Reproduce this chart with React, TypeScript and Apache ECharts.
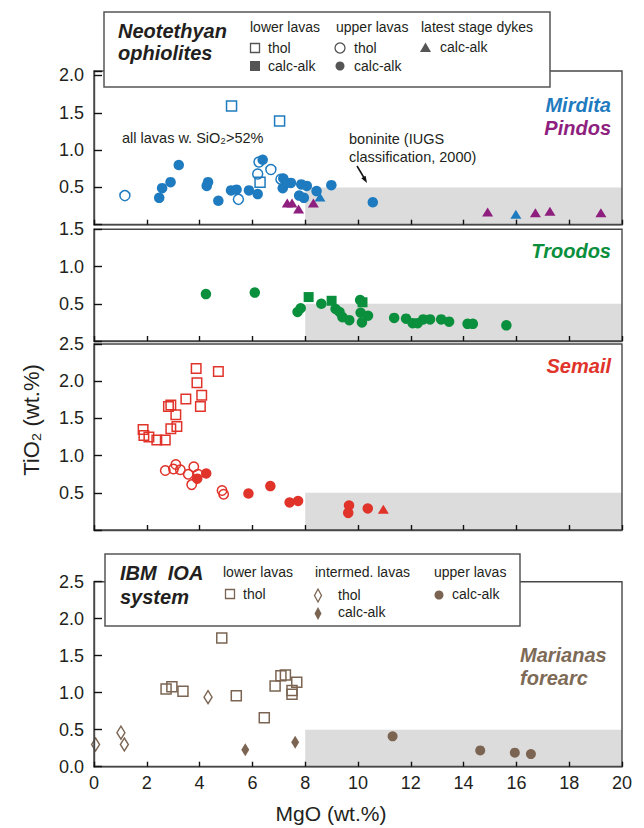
import React, { useEffect, useRef } from "react";
import * as echarts from "echarts";

// ---------- data (MgO wt.%, TiO2 wt.%) ----------
// Panel 1: Neotethyan ophiolites (Mirdita, Pindos)
const mirditaLowerThol = [[5.21, 1.59], [7.03, 1.39], [6.29, 0.57]];
const mirditaUpperThol = [[1.17, 0.39], [5.47, 0.34], [6.25, 0.84], [6.2, 0.68], [6.7, 0.74], [7.08, 0.61]];
const mirditaUpperCalc = [
  [2.47, 0.36], [2.58, 0.49], [2.9, 0.57], [3.21, 0.8], [4.27, 0.52], [4.32, 0.57], [4.71, 0.32],
  [5.19, 0.46], [5.4, 0.47], [5.87, 0.46], [6.2, 0.41], [6.39, 0.87], [7.17, 0.62], [7.15, 0.49],
  [7.3, 0.56], [7.46, 0.56], [7.85, 0.54], [8.06, 0.52], [7.77, 0.39], [7.95, 0.36], [8.43, 0.45],
  [8.99, 0.53], [10.56, 0.3],
];
const mirditaDykes = [[8.56, 0.37], [15.98, 0.14]];
const pindosDykes = [[7.32, 0.29], [7.5, 0.29], [7.75, 0.21], [8.31, 0.29], [14.91, 0.17], [16.72, 0.16], [17.27, 0.18], [19.2, 0.16]];

// Panel 2: Troodos
const troodosLowerCalc = [[8.13, 0.59], [9.0, 0.54], [10.17, 0.52]];
const troodosUpperCalc = [
  [4.24, 0.63], [6.09, 0.65], [7.71, 0.39], [7.83, 0.44], [8.61, 0.5], [9.15, 0.43], [9.3, 0.39],
  [9.41, 0.32], [9.67, 0.28], [10.08, 0.55], [10.1, 0.38], [10.15, 0.25], [10.38, 0.34], [11.37, 0.31],
  [11.82, 0.3], [12.07, 0.24], [12.26, 0.24], [12.47, 0.29], [12.73, 0.29], [13.15, 0.29], [13.45, 0.26],
  [14.15, 0.23], [14.35, 0.23], [15.62, 0.21],
];

// Panel 3: Semail
const semailLowerThol = [
  [3.87, 2.17], [4.71, 2.13], [3.9, 1.98], [4.08, 1.81], [4.03, 1.66], [3.48, 1.76], [2.91, 1.68],
  [2.82, 1.66], [3.1, 1.55], [3.14, 1.39], [2.91, 1.36], [1.86, 1.35], [1.89, 1.27], [2.08, 1.25],
  [2.38, 1.21], [2.7, 1.21],
];
const semailUpperThol = [
  [2.7, 0.8], [3.01, 0.82], [3.1, 0.88], [3.27, 0.81], [3.57, 0.75], [3.78, 0.85], [3.7, 0.61],
  [3.94, 0.75], [4.85, 0.53], [4.91, 0.48],
];
const semailUpperCalc = [[3.91, 0.69], [4.25, 0.76], [5.85, 0.49], [6.68, 0.59], [7.41, 0.37], [7.73, 0.39], [9.66, 0.33], [9.63, 0.23], [10.37, 0.29]];
const semailDykes = [[10.96, 0.28]];

// Panel 4: IBM IOA system (Marianas forearc)
const ibmLowerThol = [
  [4.84, 1.74], [2.73, 1.05], [2.95, 1.08], [3.37, 1.02], [5.39, 0.96], [6.45, 0.66], [6.86, 1.09],
  [7.08, 1.23], [7.25, 1.24], [7.5, 1.03], [7.5, 0.98], [7.68, 1.14],
];
const ibmInterThol = [[0.06, 0.3], [1.02, 0.46], [1.15, 0.3], [4.32, 0.94]];
const ibmInterCalc = [[5.73, 0.23], [7.62, 0.33]];
const ibmUpperCalc = [[11.31, 0.41], [14.63, 0.22], [15.94, 0.19], [16.55, 0.17]];

// boninite field: MgO from 8 to 20, TiO2 below 0.5
const boniniteField = [[8, 20, 0.5]];

// axis settings
const xTicks = { min: 0, max: 20, interval: 2 };
const yMaxes = [2.06, 1.5, 2.5, 2.5];

// ---------- styling ----------
const FONT = '"Liberation Sans", Arial, Helvetica, sans-serif';
const BLUE = "#1f7bbf";
const PURPLE = "#8e1f7e";
const GREEN = "#0a8f3c";
const RED = "#e0332a";
const BROWN = "#7b6552";
const AXIS = "#474747";
const SHADE = "#dcdcdc";

const grids = [
  { left: 94, top: 71, width: 528, height: 153.7 },
  { left: 94, top: 229.3, width: 528, height: 111.7 },
  { left: 94, top: 344, width: 528, height: 186 },
  { left: 94, top: 581.7, width: 528, height: 185 },
];

function scatter(data: number[][], gi: number, symbol: string, color: string, filled: boolean, size: any, z = 3) {
  return {
    type: "scatter",
    xAxisIndex: gi,
    yAxisIndex: gi,
    data,
    symbol,
    symbolSize: size,
    z,
    silent: true,
    itemStyle: filled
      ? { color, borderWidth: 0, opacity: 1 }
      : { color: "rgba(255,255,255,0)", borderColor: color, borderWidth: 1.5, opacity: 1 },
  };
}

function shadeSeries(gi: number) {
  return {
    type: "custom",
    xAxisIndex: gi,
    yAxisIndex: gi,
    z: 1,
    silent: true,
    encode: { x: [0, 1], y: 2 },
    data: boniniteField,
    renderItem: (_p: any, api: any) => {
      const p0 = api.coord([api.value(0), api.value(2)]);
      const p1 = api.coord([api.value(1), 0]);
      return {
        type: "rect",
        shape: { x: p0[0], y: p0[1], width: p1[0] - p0[0], height: p1[1] - p0[1] },
        style: { fill: SHADE },
      };
    },
  };
}

function txt(x: number, y: number, text: string, opts: any = {}) {
  return {
    type: "text",
    x,
    y,
    z: 120,
    rotation: opts.rotation || 0,
    style: {
      text,
      fill: opts.color || "#231f20",
      fontFamily: FONT,
      fontSize: opts.size || 14,
      fontWeight: opts.bold ? "bold" : "normal",
      fontStyle: opts.italic ? "italic" : "normal",
      align: opts.align || "left",
      verticalAlign: opts.va || "middle",
    },
  };
}

function rectMark(cx: number, cy: number, s: number, color: string, filled: boolean) {
  return {
    type: "rect",
    z: 120,
    shape: { x: cx - s / 2, y: cy - s / 2, width: s, height: s },
    style: filled ? { fill: color } : { fill: "#fff", stroke: color, lineWidth: 1.3 },
  };
}
function circMark(cx: number, cy: number, r: number, color: string, filled: boolean) {
  return {
    type: "circle",
    z: 120,
    shape: { cx, cy, r },
    style: filled ? { fill: color } : { fill: "#fff", stroke: color, lineWidth: 1.3 },
  };
}
function polyMark(points: number[][], color: string, filled: boolean) {
  return {
    type: "polygon",
    z: 120,
    shape: { points },
    style: filled ? { fill: color } : { fill: "#fff", stroke: color, lineWidth: 1.3 },
  };
}

export default function App() {
  const ref = useRef<HTMLDivElement>(null);

  useEffect(() => {
    document.body.style.margin = "0";
    if (!ref.current) return;
    const chart = echarts.init(ref.current, null, { renderer: "svg" });

    const xAxes = grids.map((_, i) => ({
      type: "value",
      gridIndex: i,
      ...xTicks,
      z: 10,
      axisLine: { show: true, onZero: false, lineStyle: { color: AXIS, width: 1.4 } },
      axisTick: { show: true, inside: true, length: 5, lineStyle: { color: "#111", width: 1.4 } },
      axisLabel: {
        show: i === 3,
        color: "#231f20",
        fontFamily: FONT,
        fontSize: 18,
        margin: 7,
        showMaxLabel: true,
        showMinLabel: true,
      },
      splitLine: { show: false },
    }));

    const yAxes = grids.map((_, i) => ({
      type: "value",
      gridIndex: i,
      min: 0,
      max: yMaxes[i],
      interval: 0.5,
      z: 10,
      axisLine: { show: true, onZero: false, lineStyle: { color: AXIS, width: 1.4 } },
      axisTick: { show: true, inside: true, length: 8, lineStyle: { color: "#111", width: 1.4 } },
      axisLabel: {
        color: "#231f20",
        fontFamily: FONT,
        fontSize: 18,
        margin: 10,
        showMaxLabel: true,
        showMinLabel: true,
        formatter: (v: number) => {
          const k = v / 0.5;
          if (Math.abs(k - Math.round(k)) > 1e-6) return "";
          if (v === 0 && i !== 3) return "";
          return v.toFixed(1);
        },
      },
      splitLine: { show: false },
    }));

    const series: any[] = [
      shadeSeries(0), shadeSeries(1), shadeSeries(2), shadeSeries(3),
      // panel 1
      scatter(mirditaUpperCalc, 0, "circle", BLUE, true, 10.5),
      scatter(mirditaUpperThol, 0, "circle", BLUE, false, 10, 4),
      scatter(mirditaLowerThol, 0, "rect", BLUE, false, 10, 4),
      scatter(mirditaDykes, 0, "triangle", BLUE, true, [11, 9], 5),
      scatter(pindosDykes, 0, "triangle", PURPLE, true, [11, 9], 5),
      // panel 2
      scatter(troodosUpperCalc, 1, "circle", GREEN, true, 10.5),
      scatter(troodosLowerCalc, 1, "rect", GREEN, true, 10, 4),
      // panel 3
      scatter(semailLowerThol, 2, "rect", RED, false, 9.5),
      scatter(semailUpperThol, 2, "circle", RED, false, 9.5),
      scatter(semailUpperCalc, 2, "circle", RED, true, 10.5, 4),
      scatter(semailDykes, 2, "triangle", RED, true, [11, 9], 5),
      // panel 4
      scatter(ibmLowerThol, 3, "rect", BROWN, false, 10),
      scatter(ibmInterThol, 3, "diamond", BROWN, false, [8, 13]),
      scatter(ibmInterCalc, 3, "diamond", BROWN, true, [8, 13]),
      scatter(ibmUpperCalc, 3, "circle", BROWN, true, 10),
    ];

    const L1 = "#555";
    const graphic: any[] = [
      // axis titles
      txt(331, 813, "MgO (wt.%)", { size: 21, align: "center" }),
      txt(31, 420, "TiO\u2082 (wt.%)", { size: 22, align: "center", rotation: Math.PI / 2 }),
      // panel labels
      txt(611, 105, "Mirdita", { size: 20, bold: true, italic: true, color: BLUE, align: "right" }),
      txt(611, 128, "Pindos", { size: 20, bold: true, italic: true, color: PURPLE, align: "right" }),
      txt(611, 251, "Troodos", { size: 20, bold: true, italic: true, color: GREEN, align: "right" }),
      txt(611, 366, "Semail", { size: 20, bold: true, italic: true, color: RED, align: "right" }),
      txt(520, 655, "Marianas", { size: 20, bold: true, italic: true, color: "#7d6a57" }),
      txt(520, 678, "forearc", { size: 20, bold: true, italic: true, color: "#7d6a57" }),
      // annotations
      txt(122, 138, "all lavas w. SiO\u2082>52%", { size: 14.5 }),
      txt(349, 139, "boninite (IUGS", { size: 14.5 }),
      txt(349, 157, "classification, 2000)", { size: 14.5 }),
      {
        type: "line",
        z: 120,
        shape: { x1: 357, y1: 166, x2: 364.5, y2: 178.5 },
        style: { stroke: "#111", lineWidth: 1.5 },
      },
      polyMark([[367, 183], [361.3, 178.3], [365.6, 175.7]], "#111", true),

      // legend 1
      {
        type: "rect",
        z: 110,
        shape: { x: 104, y: 12, width: 446, height: 75 },
        style: { fill: "#fff", stroke: "#555", lineWidth: 1.5 },
      },
      txt(118, 31, "Neotethyan", { size: 20, bold: true, italic: true }),
      txt(118, 53, "ophiolites", { size: 20, bold: true, italic: true }),
      txt(250, 27, "lower lavas", { size: 14 }),
      txt(336, 27, "upper lavas", { size: 14 }),
      txt(421, 27, "latest stage dykes", { size: 14 }),
      rectMark(255, 48, 9, L1, false),
      txt(268, 48, "thol", { size: 14 }),
      rectMark(255, 66, 10, L1, true),
      txt(268, 66, "calc-alk", { size: 14 }),
      circMark(340, 48, 5, L1, false),
      txt(354, 48, "thol", { size: 14 }),
      circMark(340, 66, 4.5, L1, true),
      txt(354, 66, "calc-alk", { size: 14 }),
      polyMark([[425.5, 42.5], [431, 52], [420, 52]], L1, true),
      txt(440, 47, "calc-alk", { size: 14 }),

      // legend 4
      {
        type: "rect",
        z: 110,
        shape: { x: 105, y: 554, width: 415, height: 72 },
        style: { fill: "#fff", stroke: "#555", lineWidth: 1.5 },
      },
      txt(120, 573, "IBM  IOA", { size: 20, bold: true, italic: true }),
      txt(120, 597, "system", { size: 20, bold: true, italic: true }),
      txt(223, 572, "lower lavas", { size: 14 }),
      txt(315, 572, "intermed. lavas", { size: 14 }),
      txt(434, 572, "upper lavas", { size: 14 }),
      rectMark(230, 594, 9, BROWN, false),
      txt(243, 594, "thol", { size: 14 }),
      polyMark([[318, 589], [321.5, 595.5], [318, 602], [314.5, 595.5]], BROWN, false),
      txt(338, 595, "thol", { size: 14 }),
      polyMark([[318, 607], [321.5, 613.5], [318, 620], [314.5, 613.5]], BROWN, true),
      txt(338, 612, "calc-alk", { size: 14 }),
      circMark(439, 595, 4.5, BROWN, true),
      txt(452, 594, "calc-alk", { size: 14 }),
    ];

    chart.setOption({
      animation: false,
      backgroundColor: "#fff",
      grid: grids.map((g) => ({ ...g, show: true, z: 10, borderColor: AXIS, borderWidth: 1.4, backgroundColor: "transparent", containLabel: false })),
      xAxis: xAxes,
      yAxis: yAxes,
      series,
      graphic,
    });

    return () => chart.dispose();
  }, []);

  return <div ref={ref} style={{ width: 644, height: 828 }} />;
}
